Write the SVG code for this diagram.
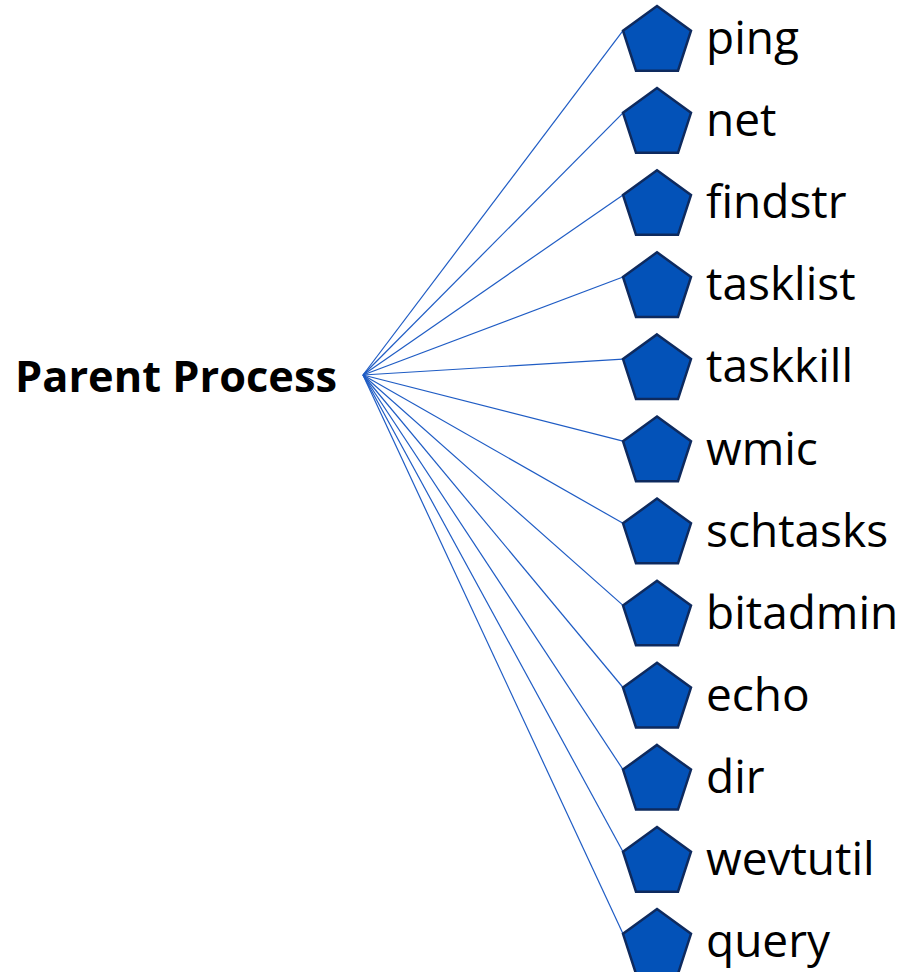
<svg xmlns="http://www.w3.org/2000/svg" xmlns:xlink="http://www.w3.org/1999/xlink" width="905" height="972" viewBox="0 0 905 972">
  <style>
    .link { stroke: #1F5CC4; stroke-width: 1.2; fill: none; }
    .proc { fill: #0352B8; stroke: #0E2A5E; stroke-width: 2.5; stroke-linejoin: miter; }
    .label { font-family: "Open Sans", "Noto Sans", sans-serif; font-size: 46px; fill: #000; }
    .root { font-family: "Open Sans", "Noto Sans", sans-serif; font-size: 43.5px; font-weight: bold; fill: #000; }
  </style>
  <defs>
    <!-- regular pentagon centred at the origin, circumradius 35.75 -->
    <polygon id="pent" points="0,-35.75 34,-11.05 21.01,28.92 -21.01,28.92 -34,-11.05"/>
  </defs>
  <rect width="905" height="972" fill="#fff"/>

  <g id="connectors">
    <line class="link" x1="363" y1="375" x2="623" y2="30.7"/>
    <line class="link" x1="363" y1="375" x2="623" y2="112.8"/>
    <line class="link" x1="363" y1="375" x2="623" y2="194.9"/>
    <line class="link" x1="363" y1="375" x2="623" y2="277.0"/>
    <line class="link" x1="363" y1="375" x2="623" y2="359.1"/>
    <line class="link" x1="363" y1="375" x2="623" y2="441.2"/>
    <line class="link" x1="363" y1="375" x2="623" y2="523.3"/>
    <line class="link" x1="363" y1="375" x2="623" y2="605.4"/>
    <line class="link" x1="363" y1="375" x2="623" y2="687.5"/>
    <line class="link" x1="363" y1="375" x2="623" y2="769.6"/>
    <line class="link" x1="363" y1="375" x2="623" y2="851.7"/>
    <line class="link" x1="363" y1="375" x2="623" y2="933.8"/>
  </g>

  <g id="parent">
    <text class="root" x="15" y="392" textLength="322" lengthAdjust="spacingAndGlyphs">Parent Process</text>
  </g>

  <g id="ping"><use xlink:href="#pent" class="proc" x="657" y="41.75"/><text class="label" x="706" y="54">ping</text></g>
  <g id="net"><use xlink:href="#pent" class="proc" x="657" y="123.85"/><text class="label" x="706" y="136.1">net</text></g>
  <g id="findstr"><use xlink:href="#pent" class="proc" x="657" y="205.95"/><text class="label" x="706" y="218.2">findstr</text></g>
  <g id="tasklist"><use xlink:href="#pent" class="proc" x="657" y="288.05"/><text class="label" x="706" y="300.3">tasklist</text></g>
  <g id="taskkill"><use xlink:href="#pent" class="proc" x="657" y="370.15"/><text class="label" x="706" y="382.4">taskkill</text></g>
  <g id="wmic"><use xlink:href="#pent" class="proc" x="657" y="452.25"/><text class="label" x="706" y="464.5">wmic</text></g>
  <g id="schtasks"><use xlink:href="#pent" class="proc" x="657" y="534.35"/><text class="label" x="706" y="546.6">schtasks</text></g>
  <g id="bitadmin"><use xlink:href="#pent" class="proc" x="657" y="616.45"/><text class="label" x="706" y="628.7">bitadmin</text></g>
  <g id="echo"><use xlink:href="#pent" class="proc" x="657" y="698.55"/><text class="label" x="706" y="710.8">echo</text></g>
  <g id="dir"><use xlink:href="#pent" class="proc" x="657" y="780.65"/><text class="label" x="706" y="792.9">dir</text></g>
  <g id="wevtutil"><use xlink:href="#pent" class="proc" x="657" y="862.75"/><text class="label" x="706" y="875">wevtutil</text></g>
  <g id="query"><use xlink:href="#pent" class="proc" x="657" y="944.85"/><text class="label" x="706" y="957.1">query</text></g>
</svg>
